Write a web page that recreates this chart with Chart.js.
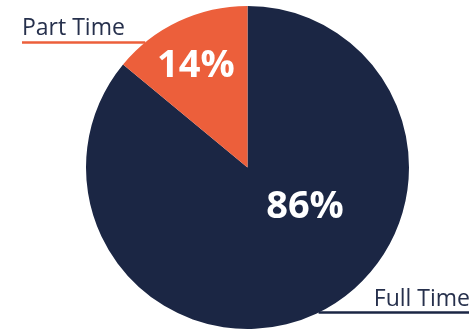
<!DOCTYPE html>
<html>
<head>
<meta charset="utf-8">
<script src="https://cdn.jsdelivr.net/npm/chart.js@4/dist/chart.umd.min.js"></script>
<style>
  html, body { margin: 0; padding: 0; background: #fff; }
  #wrap { position: relative; width: 469px; height: 332px; }
</style>
</head>
<body>
<div id="wrap"><canvas id="pie"></canvas></div>
<script>
// Employment type share (%)
const labels = ['Full Time', 'Part Time'];
const values = [86, 14];
const colors = ['#1b2644', '#ec5f3b'];

// percent labels + callout lines, placed relative to the pie centre (fractions of radius)
const pieLabels = {
  id: 'pieLabels',
  afterDatasetsDraw(chart, args, opts) {
    const {ctx} = chart;
    const meta = chart.getDatasetMeta(0);
    const arc0 = meta.data[0];
    const cx = arc0.x, cy = arc0.y, r = arc0.outerRadius;
    ctx.save();
    meta.data.forEach((arc, i) => {
      const p = opts.pct[i];
      ctx.font = 'bold 38px "Open Sans", sans-serif';
      ctx.fillStyle = '#ffffff';
      ctx.textAlign = 'center';
      ctx.textBaseline = 'middle';
      ctx.fillText(values[i] + '%', cx + p[0] * r, cy + p[1] * r);

      const c = opts.callout[i];
      const ly = cy + c.dy * r;
      const edge = Math.sqrt(r * r - (ly - cy) * (ly - cy));
      const x0 = c.side < 0 ? c.x : cx + edge;
      const x1 = c.side < 0 ? cx - edge : chart.width;
      ctx.strokeStyle = colors[i];
      ctx.lineWidth = 2.5;
      ctx.beginPath();
      ctx.moveTo(x0, ly);
      ctx.lineTo(x1, ly);
      ctx.stroke();

      ctx.font = '23px "Open Sans", sans-serif';
      ctx.fillStyle = '#26304c';
      ctx.textBaseline = 'alphabetic';
      if (c.side < 0) {
        ctx.textAlign = 'left';
        ctx.fillText(labels[i], x0, ly - 7);
      } else {
        ctx.textAlign = 'right';
        ctx.fillText(labels[i], chart.width + 1, ly - 7);
      }
    });
    ctx.restore();
  }
};

new Chart(document.getElementById('pie'), {
  type: 'pie',
  data: {
    labels: labels,
    datasets: [{
      data: values,
      backgroundColor: colors,
      borderWidth: 0
    }]
  },
  options: {
    responsive: true,
    maintainAspectRatio: false,
    animation: false,
    layout: { padding: { top: 6, bottom: 3, left: 86, right: 60 } },
    plugins: {
      legend: { display: false },
      tooltip: { enabled: false },
      pieLabels: {
        pct: [[0.356, 0.248], [-0.32, -0.625]],
        callout: [
          { side: 1, dy: 0.898 },
          { side: -1, dy: -0.774, x: 22 }
        ]
      }
    }
  },
  plugins: [pieLabels]
});
</script>
</body>
</html>
